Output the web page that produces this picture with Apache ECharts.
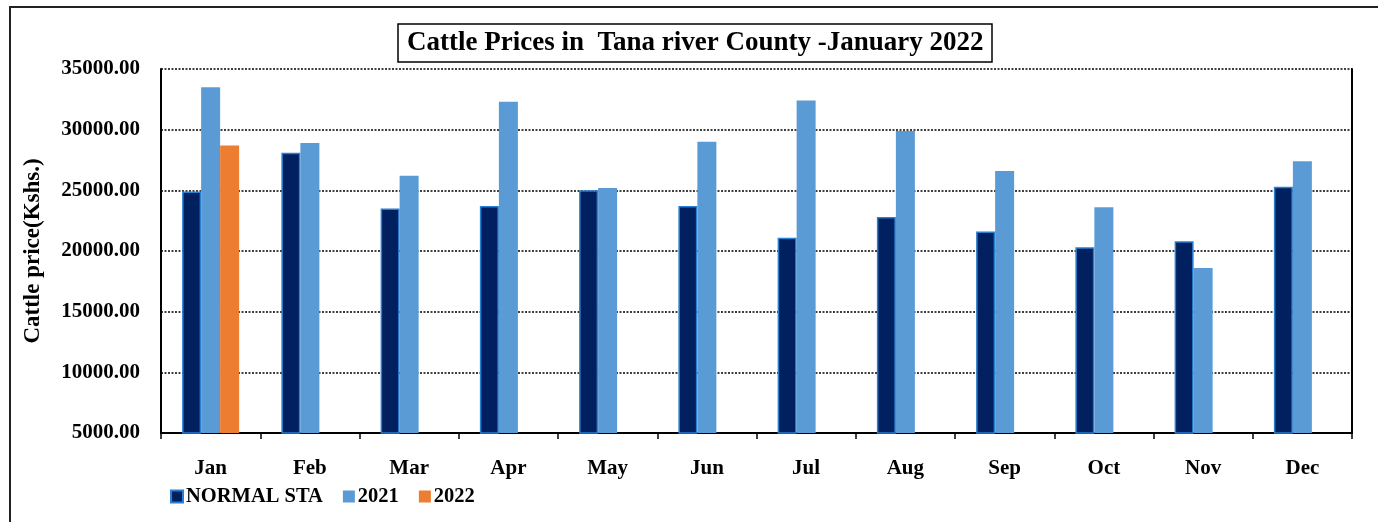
<!DOCTYPE html>
<html>
<head>
<meta charset="utf-8">
<title>Cattle Prices in Tana river County</title>
<script src="https://cdn.jsdelivr.net/npm/echarts@6/dist/echarts.min.js"></script>
<style>
  html, body { margin: 0; padding: 0; background: #fff; }
  #chart { width: 1378px; height: 522px; }
</style>
</head>
<body>
<div id="chart"></div>
<script>
// Monthly cattle prices (Kshs.)
const months = ['Jan', 'Feb', 'Mar', 'Apr', 'May', 'Jun', 'Jul', 'Aug', 'Sep', 'Oct', 'Nov', 'Dec'];
const normalSta = [24900, 28100, 23500, 23700, 25000, 23700, 21100, 22800, 21600, 20300, 20800, 25300];
const price2021 = [33500, 28900, 26200, 32300, 25200, 29000, 32400, 29900, 26600, 23600, 18600, 27400];
const price2022 = [28700, null, null, null, null, null, null, null, null, null, null, null];

const serif = 'Liberation Serif, Times New Roman, serif';

const chart = echarts.init(document.getElementById('chart'));
chart.setOption({
  animation: false,
  textStyle: { fontFamily: serif },
  title: {
    text: 'Cattle Prices in  Tana river County -January 2022',
    left: 398,
    top: 24,
    padding: [3, 9, 3, 9],
    borderColor: '#000',
    borderWidth: 1.5,
    textStyle: { fontFamily: serif, fontWeight: 'bold', fontSize: 27, lineHeight: 32, color: '#000' }
  },
  graphic: [{
    type: 'rect',
    shape: { x: 10, y: 7, width: 1400, height: 540 },
    style: { fill: 'none', stroke: '#222', lineWidth: 2 },
    silent: true
  }],
  legend: {
    left: 165,
    top: 481,
    itemWidth: 12,
    itemHeight: 12,
    itemGap: 20,
    icon: 'rect',
    textStyle: { fontFamily: serif, fontWeight: 'bold', fontSize: 20.5, color: '#000', padding: [0, 0, 0, -2] },
    data: ['NORMAL STA', '2021', '2022']
  },
  grid: { left: 161, right: 26, top: 69, bottom: 89 },
  xAxis: {
    type: 'category',
    data: months,
    axisLine: { lineStyle: { color: '#000', width: 2 } },
    axisTick: { show: true, length: 6, lineStyle: { color: '#000', width: 1.5 } },
    axisLabel: { margin: 25, fontFamily: serif, fontWeight: 'bold', fontSize: 21, color: '#000' }
  },
  yAxis: [{
    type: 'value',
    min: 5000,
    max: 35000,
    interval: 5000,
    name: 'Cattle price(Kshs.)',
    nameLocation: 'middle',
    nameGap: 116,
    nameTextStyle: { fontFamily: serif, fontWeight: 'bold', fontSize: 23, color: '#000' },
    axisLine: { show: true, lineStyle: { color: '#000', width: 2 } },
    axisTick: { show: false },
    axisLabel: {
      margin: 21,
      fontFamily: serif, fontWeight: 'bold', fontSize: 21, color: '#000',
      formatter: v => v.toFixed(2)
    },
    splitLine: { show: true, lineStyle: { color: '#000', width: 1.5, type: [2, 1.5] } }
  }, {
    type: 'value',
    position: 'right',
    min: 5000,
    max: 35000,
    interval: 5000,
    axisLine: { show: true, lineStyle: { color: '#000', width: 2 } },
    axisTick: { show: false },
    axisLabel: { show: false },
    splitLine: { show: false }
  }],
  series: [{
    name: 'NORMAL STA',
    type: 'bar',
    data: normalSta,
    barWidth: 19,
    barGap: '0%',
    itemStyle: { color: '#002060', borderColor: '#2a7fd0', borderWidth: 1.5 }
  }, {
    name: '2021',
    type: 'bar',
    data: price2021,
    barWidth: 19,
    barGap: '0%',
    itemStyle: { color: '#5B9BD5' }
  }, {
    name: '2022',
    type: 'bar',
    data: price2022,
    barWidth: 19,
    barGap: '0%',
    itemStyle: { color: '#ED7D31' }
  }]
});
</script>
</body>
</html>
